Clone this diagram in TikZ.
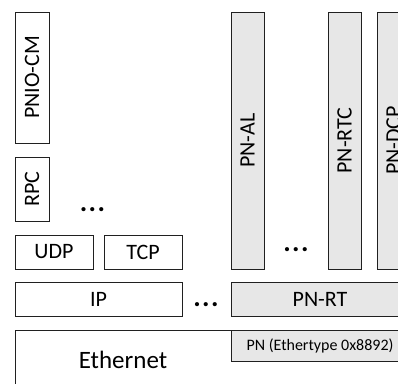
\documentclass[tikz,border=0pt]{standalone}
\usepackage{fontspec}
\setmainfont{Carlito}
\definecolor{boxgray}{HTML}{E7E7E7}
\definecolor{linecol}{HTML}{202020}
\tikzset{
  layer/.style={draw=linecol, line width=1.3pt, inner sep=0pt, anchor=north west},
  graylayer/.style={layer, fill=boxgray},
  lbl/.style={font=\fontsize{22}{24}\selectfont, text=black, inner sep=0pt},
  vlbl/.style={lbl, rotate=90},
  dotsnode/.style={font=\fontsize{28}{30}\selectfont\bfseries, inner sep=0pt, anchor=base}
}
\newcommand{\mydots}{.\kern1.5pt.\kern1.5pt.}
\begin{document}
\begin{tikzpicture}[x=1pt,y=-1pt]
\useasboundingbox (0,0) rectangle (398,383);
\clip (0,0) rectangle (398,383);
% left stack
\node[layer, minimum width=34pt, minimum height=131pt] (pniocm) at (15,12) {};
\node[vlbl] (pniocmt) at (32,77.5) {PNIO-CM};
\node[layer, minimum width=34pt, minimum height=64pt] (rpc) at (15,157) {};
\node[vlbl] (rpct) at (32,189) {RPC};
\node[dotsnode] (d1) at (92.5,211) {\mydots};
\node[layer, minimum width=78pt, minimum height=34pt] (udp) at (15,235) {};
\node[lbl] (udpt) at (54,252) {UDP};
\node[layer, minimum width=78pt, minimum height=34pt] (tcp) at (104,235) {};
\node[lbl] (tcpt) at (143,252) {TCP};
\node[layer, minimum width=167pt, minimum height=34pt] (ip) at (15,282) {};
\node[lbl] (ipt) at (98.5,299) {IP};
\node[dotsnode] (d2) at (206,306) {\mydots};
% Ethernet
\node[layer, minimum width=400pt, minimum height=90pt] (eth) at (15,330) {};
\node[lbl, font=\fontsize{25}{28}\selectfont] (etht) at (123,360) {Ethernet};
% right stack
\node[graylayer, minimum width=33pt, minimum height=257pt] (pnal) at (231,12) {};
\node[vlbl] (pnalt) at (247.5,140.5) {PN-AL};
\node[dotsnode] (d3) at (296,251) {\mydots};
\node[graylayer, minimum width=33pt, minimum height=257pt] (pnrtc) at (328,12) {};
\node[vlbl] (pnrtct) at (344.5,140.5) {PN-RTC};
\node[graylayer, minimum width=33pt, minimum height=257pt] (pndcp) at (377,12) {};
\node[vlbl] (pndcpt) at (393.5,140.5) {PN-DCP};
\node[graylayer, minimum width=178pt, minimum height=34pt] (pnrt) at (231,282) {};
\node[lbl] (pnrtt) at (320,299) {PN-RT};
\node[graylayer, minimum width=178pt, minimum height=31pt] (pn) at (231,330) {};
\node[lbl, font=\fontsize{16}{18}\selectfont] (pnt) at (320,345.5) {PN (Ethertype 0x8892)};
\end{tikzpicture}
\end{document}
